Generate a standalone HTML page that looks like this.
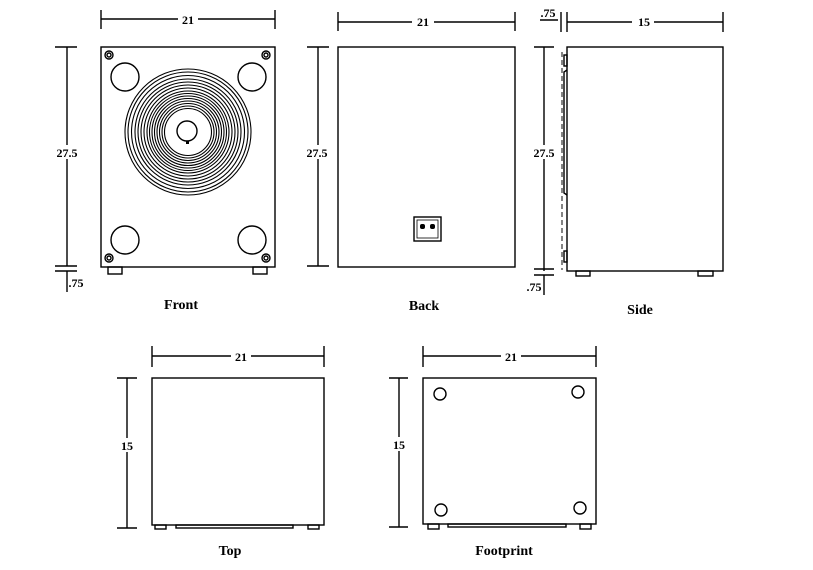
<!DOCTYPE html>
<html><head><meta charset="utf-8"><style>
html,body{margin:0;padding:0;background:#fff;}
svg{display:block;}
text{font-family:"Liberation Serif",serif;font-weight:bold;fill:#000;}
</style></head><body>
<svg width="813" height="570" viewBox="0 0 813 570" xmlns="http://www.w3.org/2000/svg">
<g stroke="#000" stroke-width="1.4" fill="none">
<!-- FRONT -->
<rect x="101" y="47" width="174" height="220"/>
<rect x="108" y="267" width="14" height="7"/>
<rect x="253" y="267" width="14" height="7"/>
<circle cx="109" cy="55" r="4"/><circle cx="109" cy="55" r="2"/>
<circle cx="266" cy="55" r="4"/><circle cx="266" cy="55" r="2"/>
<circle cx="109" cy="258" r="4"/><circle cx="109" cy="258" r="2"/>
<circle cx="266" cy="258" r="4"/><circle cx="266" cy="258" r="2"/>
<circle cx="125" cy="77" r="14"/><circle cx="252" cy="77" r="14"/>
<circle cx="125" cy="240" r="14"/><circle cx="252" cy="240" r="14"/>
<g stroke-width="1.1">
<circle cx="188" cy="132" r="63"/><circle cx="188" cy="132" r="60"/><circle cx="188" cy="132" r="56.5"/>
<circle cx="188" cy="132" r="53"/><circle cx="188" cy="132" r="50"/><circle cx="188" cy="132" r="47"/>
<circle cx="188" cy="132" r="44"/><circle cx="188" cy="132" r="41"/><circle cx="188" cy="132" r="38.5"/>
<circle cx="188" cy="132" r="36"/><circle cx="188" cy="132" r="33.5"/><circle cx="188" cy="132" r="31"/>
<circle cx="188" cy="132" r="28.5"/><circle cx="188" cy="132" r="26"/><circle cx="188" cy="132" r="23.5"/>
</g>
<circle cx="187" cy="131" r="10"/>
<!-- dims front -->
<line x1="101" y1="19" x2="275" y2="19"/><line x1="101" y1="10" x2="101" y2="29"/><line x1="275" y1="10" x2="275" y2="29"/>
<line x1="67" y1="47" x2="67" y2="266"/><line x1="55" y1="47" x2="77" y2="47"/><line x1="55" y1="266" x2="77" y2="266"/>
<line x1="55" y1="271" x2="77" y2="271"/><line x1="67" y1="271" x2="67" y2="292"/>
<!-- BACK -->
<rect x="338" y="47" width="177" height="220"/>
<rect x="414" y="217" width="27" height="24"/><rect x="417" y="220" width="21" height="18" stroke-width="0.8"/>
<line x1="338" y1="22" x2="515" y2="22"/><line x1="338" y1="12" x2="338" y2="31"/><line x1="515" y1="12" x2="515" y2="31"/>
<line x1="318" y1="47" x2="318" y2="266"/><line x1="307" y1="47" x2="329" y2="47"/><line x1="307" y1="266" x2="329" y2="266"/>
<!-- SIDE -->
<rect x="567" y="47" width="156" height="224"/>
<rect x="576" y="271" width="14" height="5"/><rect x="698" y="271" width="15" height="5"/>
<line x1="562" y1="52" x2="562" y2="270" stroke-dasharray="5,3" stroke="#666" stroke-width="1.6"/>
<rect x="564" y="55" width="3" height="11"/><rect x="564" y="251" width="3" height="11"/>
<path d="M567 70 L564 72 L564 193 L567 195"/>
<line x1="567" y1="22" x2="723" y2="22"/><line x1="723" y1="12" x2="723" y2="32"/>
<line x1="567" y1="12" x2="567" y2="32"/><line x1="561" y1="12" x2="561" y2="32"/>
<line x1="540" y1="20" x2="558" y2="20"/>
<line x1="544" y1="47" x2="544" y2="271"/><line x1="534" y1="47" x2="554" y2="47"/>
<line x1="534" y1="269" x2="554" y2="269"/><line x1="534" y1="275" x2="554" y2="275"/>
<line x1="544" y1="275" x2="544" y2="295"/>
<!-- TOP -->
<rect x="152" y="378" width="172" height="147"/>
<rect x="155" y="525" width="11" height="4"/><rect x="308" y="525" width="11" height="4"/>
<rect x="176" y="525" width="117" height="3"/>
<line x1="152" y1="356" x2="324" y2="356"/><line x1="152" y1="346" x2="152" y2="367"/><line x1="324" y1="346" x2="324" y2="367"/>
<line x1="127" y1="378" x2="127" y2="528"/><line x1="117" y1="378" x2="137" y2="378"/><line x1="117" y1="528" x2="137" y2="528"/>
<!-- FOOTPRINT -->
<rect x="423" y="378" width="173" height="146"/>
<rect x="428" y="524" width="11" height="5"/><rect x="580" y="524" width="11" height="5"/>
<rect x="448" y="524" width="118" height="3"/>
<circle cx="440" cy="394" r="6"/><circle cx="578" cy="392" r="6"/>
<circle cx="441" cy="510" r="6"/><circle cx="580" cy="508" r="6"/>
<line x1="423" y1="356" x2="596" y2="356"/><line x1="423" y1="346" x2="423" y2="367"/><line x1="596" y1="346" x2="596" y2="367"/>
<line x1="399" y1="378" x2="399" y2="527"/><line x1="389" y1="378" x2="408" y2="378"/><line x1="389" y1="527" x2="408" y2="527"/>
</g>
<g fill="#000">
<rect x="420" y="224" width="5" height="5" rx="2"/><rect x="430" y="224" width="5" height="5" rx="2"/>
<rect x="186" y="141" width="3" height="3"/>
</g>
<g fill="#fff">
<rect x="178" y="12" width="20" height="14"/><rect x="412" y="15" width="22" height="14"/>
<rect x="632" y="15" width="22" height="14"/><rect x="55" y="145" width="24" height="14"/>
<rect x="304" y="145" width="26" height="14"/><rect x="531" y="145" width="26" height="14"/>
<rect x="231" y="349" width="20" height="14"/><rect x="501" y="349" width="20" height="14"/>
<rect x="119" y="438" width="16" height="14"/><rect x="391" y="437" width="16" height="14"/>
</g>
<g font-size="12" text-anchor="middle">
<text x="188" y="24">21</text>
<text x="423" y="26">21</text>
<text x="644" y="26">15</text>
<text x="548" y="17">.75</text>
<text x="67" y="157">27.5</text>
<text x="317" y="157">27.5</text>
<text x="544" y="157">27.5</text>
<text x="76" y="287">.75</text>
<text x="534" y="291">.75</text>
<text x="241" y="361">21</text>
<text x="511" y="361">21</text>
<text x="127" y="450">15</text>
<text x="399" y="449">15</text>
</g>
<g font-size="14" text-anchor="middle">
<text x="181" y="309">Front</text>
<text x="424" y="310">Back</text>
<text x="640" y="314">Side</text>
<text x="230" y="555">Top</text>
<text x="504" y="555">Footprint</text>
</g>
</svg>
</body></html>
